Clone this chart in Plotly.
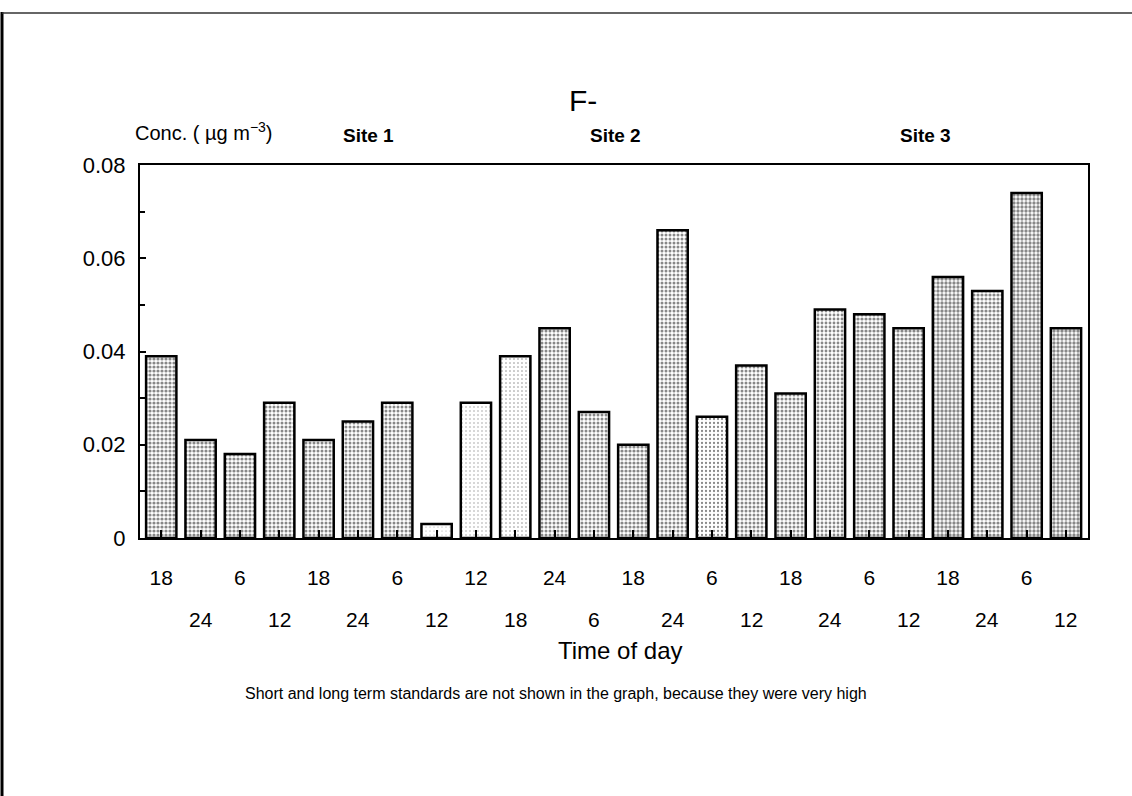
import plotly.graph_objects as go

# ---- data ----
values = [0.039, 0.021, 0.018, 0.029, 0.021, 0.025, 0.029, 0.003,
          0.029, 0.039, 0.045, 0.027, 0.020, 0.066, 0.026, 0.037,
          0.031, 0.049, 0.048, 0.045, 0.056, 0.053, 0.074, 0.045]
hours = ["18", "24", "6", "12", "18", "24", "6", "12",
         "12", "18", "24", "6", "18", "24", "6", "12",
         "18", "24", "6", "12", "18", "24", "6", "12"]
shade = [0.5, 0.5, 0.5, 0.45, 0.45, 0.45, 0.45, 0.05,
         0.08, 0.12, 0.45, 0.45, 0.5, 0.45, 0.25, 0.45,
         0.45, 0.4, 0.5, 0.5, 0.55, 0.5, 0.55, 0.55]
sites = ["Site 1", "Site 2", "Site 3"]
site_px = [368, 615, 925]
ytickvals = [0, 0.02, 0.04, 0.06, 0.08]
yticktext = ["0", "0.02", "0.04", "0.06", "0.08"]

W, H = 1132, 796
L, R, T, B = 140, 1088, 165, 538
pw, ph = R - L, B - T

def px_x(p):
    return (p - L) / pw

def px_y(p):
    return (B - p) / ph

FONT = "Liberation Sans, Arial, sans-serif"

idx = list(range(len(values)))
even = [i for i in idx if i % 2 == 0]
odd = [i for i in idx if i % 2 == 1]

fig = go.Figure()
fig.add_trace(go.Bar(
    x=idx, y=values,
    marker=dict(
        color="white",
        line=dict(color="black", width=2.5),
        pattern=dict(shape=".", fgcolor="#111111", bgcolor="white",
                     size=4, solidity=shade),
    ),
    showlegend=False,
))

fig.update_layout(
    width=W, height=H,
    margin=dict(l=L, r=W - R, t=T, b=H - B, pad=0),
    paper_bgcolor="white", plot_bgcolor="white",
    bargap=0.23,
    font=dict(family=FONT, color="black"),
)
fig.update_xaxes(
    range=[-0.54, 23.56],
    tickvals=even,
    ticktext=[hours[i] for i in even],
    ticks="inside", ticklen=8, tickwidth=2, tickcolor="black",
    minor=dict(tickvals=odd, ticks="inside", ticklen=8, tickwidth=2,
               tickcolor="black"),
    tickfont=dict(size=21, family=FONT),
    ticklabelstandoff=20,
    showline=True, linecolor="black", linewidth=2, mirror=True,
    showgrid=False, zeroline=False,
)
fig.update_yaxes(
    range=[0, 0.08],
    tickvals=ytickvals, ticktext=yticktext,
    ticks="inside", ticklen=6, tickwidth=1.5, tickcolor="black",
    minor=dict(tickvals=[0.01, 0.03, 0.05, 0.07], ticks="inside",
               ticklen=5, tickwidth=1.5, tickcolor="black"),
    tickfont=dict(size=22, family=FONT),
    ticklabelstandoff=8,
    showline=True, linecolor="black", linewidth=2, mirror=True,
    showgrid=False, zeroline=False,
)

ann = []
# second row of time-of-day labels
for i in odd:
    ann.append(dict(x=i, y=px_y(619), xref="x", yref="paper", text=hours[i],
                    showarrow=False, xanchor="center", yanchor="middle",
                    font=dict(size=21, family=FONT)))
for s, p in zip(sites, site_px):
    ann.append(dict(x=px_x(p), y=px_y(136), xref="paper", yref="paper",
                    text="<b>" + s + "</b>", showarrow=False,
                    xanchor="center", yanchor="middle",
                    font=dict(size=19, family=FONT)))
ann.append(dict(x=px_x(583), y=px_y(100), xref="paper", yref="paper",
                text="F-", showarrow=False, xanchor="center", yanchor="middle",
                font=dict(size=30, family=FONT)))
ann.append(dict(x=px_x(133), y=px_y(132), xref="paper", yref="paper",
                text="Conc. ( µg m<sup>−3</sup>)", showarrow=False,
                xanchor="left", yanchor="middle",
                font=dict(size=20, family=FONT)))
ann.append(dict(x=px_x(620), y=px_y(650), xref="paper", yref="paper",
                text="Time of day", showarrow=False,
                xanchor="center", yanchor="middle",
                font=dict(size=24, family=FONT)))
ann.append(dict(x=px_x(556), y=px_y(693), xref="paper", yref="paper",
                text="Short and long term standards are not shown in the graph, because they were very high",
                showarrow=False, xanchor="center", yanchor="middle",
                font=dict(size=16, family=FONT)))
fig.update_layout(annotations=ann)

# page frame lines
fig.add_shape(type="line", xref="paper", yref="paper",
              x0=px_x(2), x1=px_x(2), y0=px_y(12), y1=px_y(796),
              line=dict(color="black", width=3))
fig.add_shape(type="line", xref="paper", yref="paper",
              x0=px_x(2), x1=px_x(1132), y0=px_y(13), y1=px_y(13),
              line=dict(color="#333333", width=1.5))

fig.write_html("out.html")
